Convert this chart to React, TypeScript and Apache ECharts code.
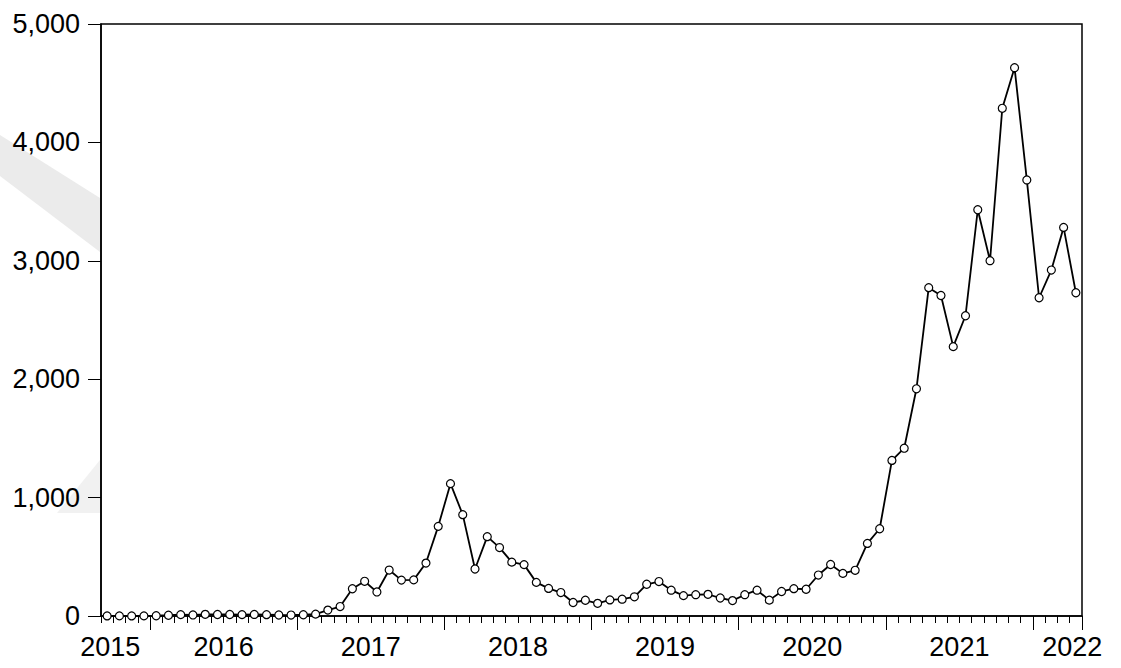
import React, { useEffect, useRef } from "react";
import * as echarts from "echarts";

// Monthly closing values, September 2015 through April 2022
const startYear = 2015;
const startMonth = 9;
const values: number[] = [
  // 2015 (Sep–Dec)
  0.9, 1.0, 0.87, 0.93,
  // 2016
  2.2, 6.4, 11.5, 8.8, 14.0, 12.5, 12.6, 11.6, 13.2, 11.3, 8.6, 8.0,
  // 2017
  10.7, 15.8, 50, 80, 230, 293, 203, 388, 303, 305, 447, 757,
  // 2018
  1118, 856, 397, 670, 578, 455, 434, 284, 233, 198, 114, 133,
  // 2019
  107, 136, 142, 162, 268, 291, 218, 172, 180, 183, 152, 130,
  // 2020
  180, 218, 134, 207, 231, 226, 346, 435, 360, 386, 613, 737,
  // 2021
  1314, 1417, 1919, 2773, 2707, 2275, 2536, 3431, 3001, 4288, 4631, 3683,
  // 2022 (Jan–Apr)
  2688, 2922, 3282, 2730,
];

// Month categories, e.g. "2015M09"
const months: string[] = values.map((_, i) => {
  const m = startMonth - 1 + i;
  const y = startYear + Math.floor(m / 12);
  const mm = (m % 12) + 1;
  return `${y}M${mm < 10 ? "0" + mm : mm}`;
});

// Year labels along the time axis
const yearLabels: string[] = ["2015", "2016", "2017", "2018", "2019", "2020", "2021", "2022"];
// Where each year label sits, in month units from the start of the sample
const yearLabelAt: number[] = [0.75, 10, 22, 34, 46, 58, 70, 79.2];

// Value axis
const yMin = 0;
const yMax = 5000;
const yStep = 1000;

const FONT = 'Arial, "Liberation Sans", sans-serif';

export default function App() {
  const ref = useRef<HTMLDivElement>(null);

  useEffect(() => {
    if (!ref.current) return;
    const chart = echarts.init(ref.current, undefined, { renderer: "svg" });

    const januaryIdx = new Set<number>();
    months.forEach((m, i) => {
      if (m.endsWith("M01")) januaryIdx.add(i);
    });

    const labelText = new Map<number, string>();
    yearLabelAt.forEach((v, i) => labelText.set(v, yearLabels[i]));

    chart.setOption({
      animation: false,
      backgroundColor: "#fff",
      graphic: [
        {
          type: "polygon",
          shape: { points: [[0, 135], [100, 198], [100, 252], [0, 176]] },
          style: { fill: "#ebebeb" },
          silent: true,
        },
        {
          type: "polygon",
          shape: { points: [[57, 513], [100, 460], [100, 513]] },
          style: { fill: "#f1f1f1" },
          silent: true,
        },
      ],
      grid: {
        left: 101,
        right: 39,
        top: 24,
        bottom: 52,
        show: true,
        backgroundColor: "#fff",
        borderColor: "#000",
        borderWidth: 1.5,
        containLabel: false,
      },
      xAxis: [
        {
          type: "category",
          data: months,
          boundaryGap: true,
          axisLine: { show: true, lineStyle: { color: "#000", width: 1.5 } },
          axisTick: { show: true, interval: 0, length: 7, lineStyle: { color: "#000", width: 1 } },
          axisLabel: { show: false },
          splitLine: { show: false },
        },
        {
          type: "category",
          data: months,
          boundaryGap: true,
          position: "bottom",
          axisLine: { show: false },
          axisTick: {
            show: true,
            interval: (i: number) => januaryIdx.has(i),
            length: 14,
            lineStyle: { color: "#000", width: 1 },
          },
          axisLabel: { show: false },
          splitLine: { show: false },
        },
        {
          type: "value",
          min: 0,
          max: values.length,
          position: "bottom",
          axisLine: { show: false },
          axisTick: { show: false },
          splitLine: { show: false },
          axisLabel: {
            show: true,
            customValues: yearLabelAt,
            formatter: (v: number) => labelText.get(v) ?? "",
            color: "#000",
            fontFamily: FONT,
            fontSize: 27,
            margin: 17,
            showMinLabel: true,
            showMaxLabel: true,
          },
        },
      ],
      yAxis: {
        type: "value",
        min: yMin,
        max: yMax,
        interval: yStep,
        axisLine: { show: true, lineStyle: { color: "#000", width: 1.5 } },
        axisTick: { show: true, length: 13, lineStyle: { color: "#000", width: 1 } },
        splitLine: { show: false },
        axisLabel: {
          color: "#000",
          fontFamily: FONT,
          fontSize: 27,
          margin: 21,
          padding: [0, 0, 12, 0],
          formatter: (v: number) => v.toLocaleString("en-US"),
        },
      },
      series: [
        {
          type: "line",
          xAxisIndex: 0,
          yAxisIndex: 0,
          data: values,
          symbol: "circle",
          symbolSize: 8,
          showAllSymbol: true,
          lineStyle: { color: "#000", width: 1.8 },
          itemStyle: { color: "#fff", borderColor: "#000", borderWidth: 1.2 },
          emphasis: { disabled: true },
          z: 3,
        },
      ],
    });

    return () => chart.dispose();
  }, []);

  return (
    <div
      ref={ref}
      style={{ position: "fixed", left: 0, top: 0, width: 1121, height: 668, background: "#fff" }}
    />
  );
}
